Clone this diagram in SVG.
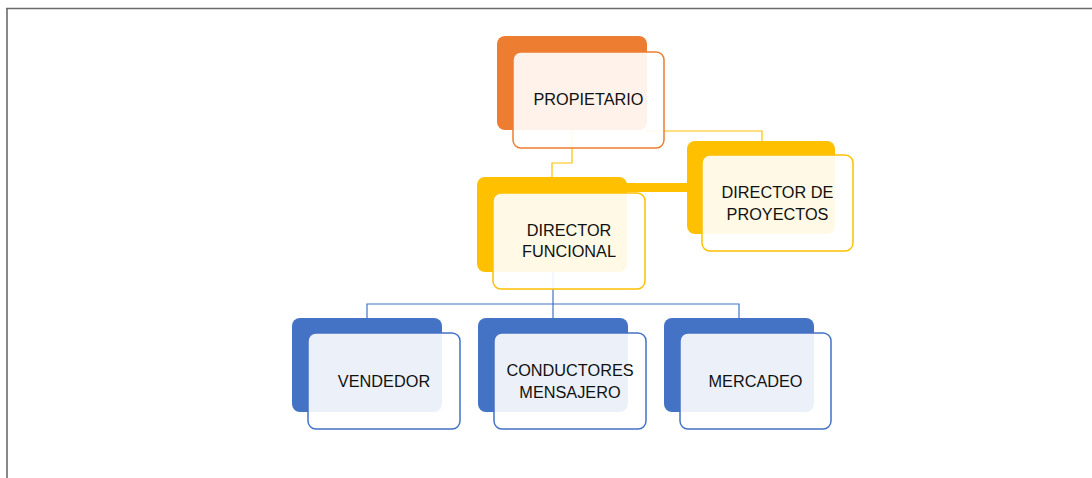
<svg xmlns="http://www.w3.org/2000/svg" width="1092" height="478" viewBox="0 0 1092 478">
<style>
.frame{stroke:#6b6b6b;stroke-width:1.6;fill:none}
.cy{stroke:#FFC000;stroke-width:1.2;fill:none}
.cb{stroke:#4472C4;stroke-width:1.2;fill:none}
.bo{fill:#ED7D31}
.fo{fill:#FFFFFF;fill-opacity:0.9;stroke:#ED7D31;stroke-width:1.5}
.by{fill:#FFC000}
.fy{fill:#FFFFFF;fill-opacity:0.9;stroke:#FFC000;stroke-width:1.5}
.bb{fill:#4472C4}
.fb{fill:#FFFFFF;fill-opacity:0.9;stroke:#4472C4;stroke-width:1.5}
text{font-family:"Liberation Sans",Arial,sans-serif;font-size:16.3px;fill:#111111;text-anchor:middle}
</style>
<rect width="1092" height="478" fill="#FFFFFF"/>
<g id="frame">
<line class="frame" x1="6" y1="8.5" x2="1092" y2="8.5"/>
<line class="frame" x1="7" y1="8" x2="7" y2="478"/>
</g>
<g id="connectors">
<path class="cy" d="M572 130 V163 H552 V177"/>
<path class="cy" d="M645 131 H762 V141"/>
<rect x="620" y="183" width="70" height="9" fill="#FFC000"/>
<path class="cb" d="M553 272 V318"/>
<path class="cb" d="M367 318 V304 H739 V318"/>
</g>
<g id="propietario">
<rect class="bo" x="497" y="36" width="150" height="94" rx="8"/>
<rect class="fo" x="513" y="52" width="151" height="96" rx="8"/>
<text x="588.5" y="105">PROPIETARIO</text>
</g>
<g id="director-funcional">
<rect class="by" x="477" y="177" width="150" height="95" rx="8"/>
<rect class="fy" x="493" y="193" width="152" height="96" rx="8"/>
<text x="569" y="236">DIRECTOR</text>
<text x="569" y="257">FUNCIONAL</text>
</g>
<g id="director-proyectos">
<rect class="by" x="687" y="141" width="148" height="93" rx="8"/>
<rect class="fy" x="702" y="155" width="151" height="96" rx="8"/>
<text x="777.5" y="198">DIRECTOR DE</text>
<text x="777.5" y="220">PROYECTOS</text>
</g>
<g id="vendedor">
<rect class="bb" x="292" y="318" width="150" height="94" rx="8"/>
<rect class="fb" x="308" y="333" width="152" height="96" rx="8"/>
<text x="384" y="387">VENDEDOR</text>
</g>
<g id="conductores">
<rect class="bb" x="478" y="318" width="150" height="94" rx="8"/>
<rect class="fb" x="494" y="333" width="152" height="96" rx="8"/>
<text x="570" y="376">CONDUCTORES</text>
<text x="570" y="398">MENSAJERO</text>
</g>
<g id="mercadeo">
<rect class="bb" x="664" y="318" width="150" height="94" rx="8"/>
<rect class="fb" x="680" y="333" width="151" height="96" rx="8"/>
<text x="755.5" y="387">MERCADEO</text>
</g>
</svg>
